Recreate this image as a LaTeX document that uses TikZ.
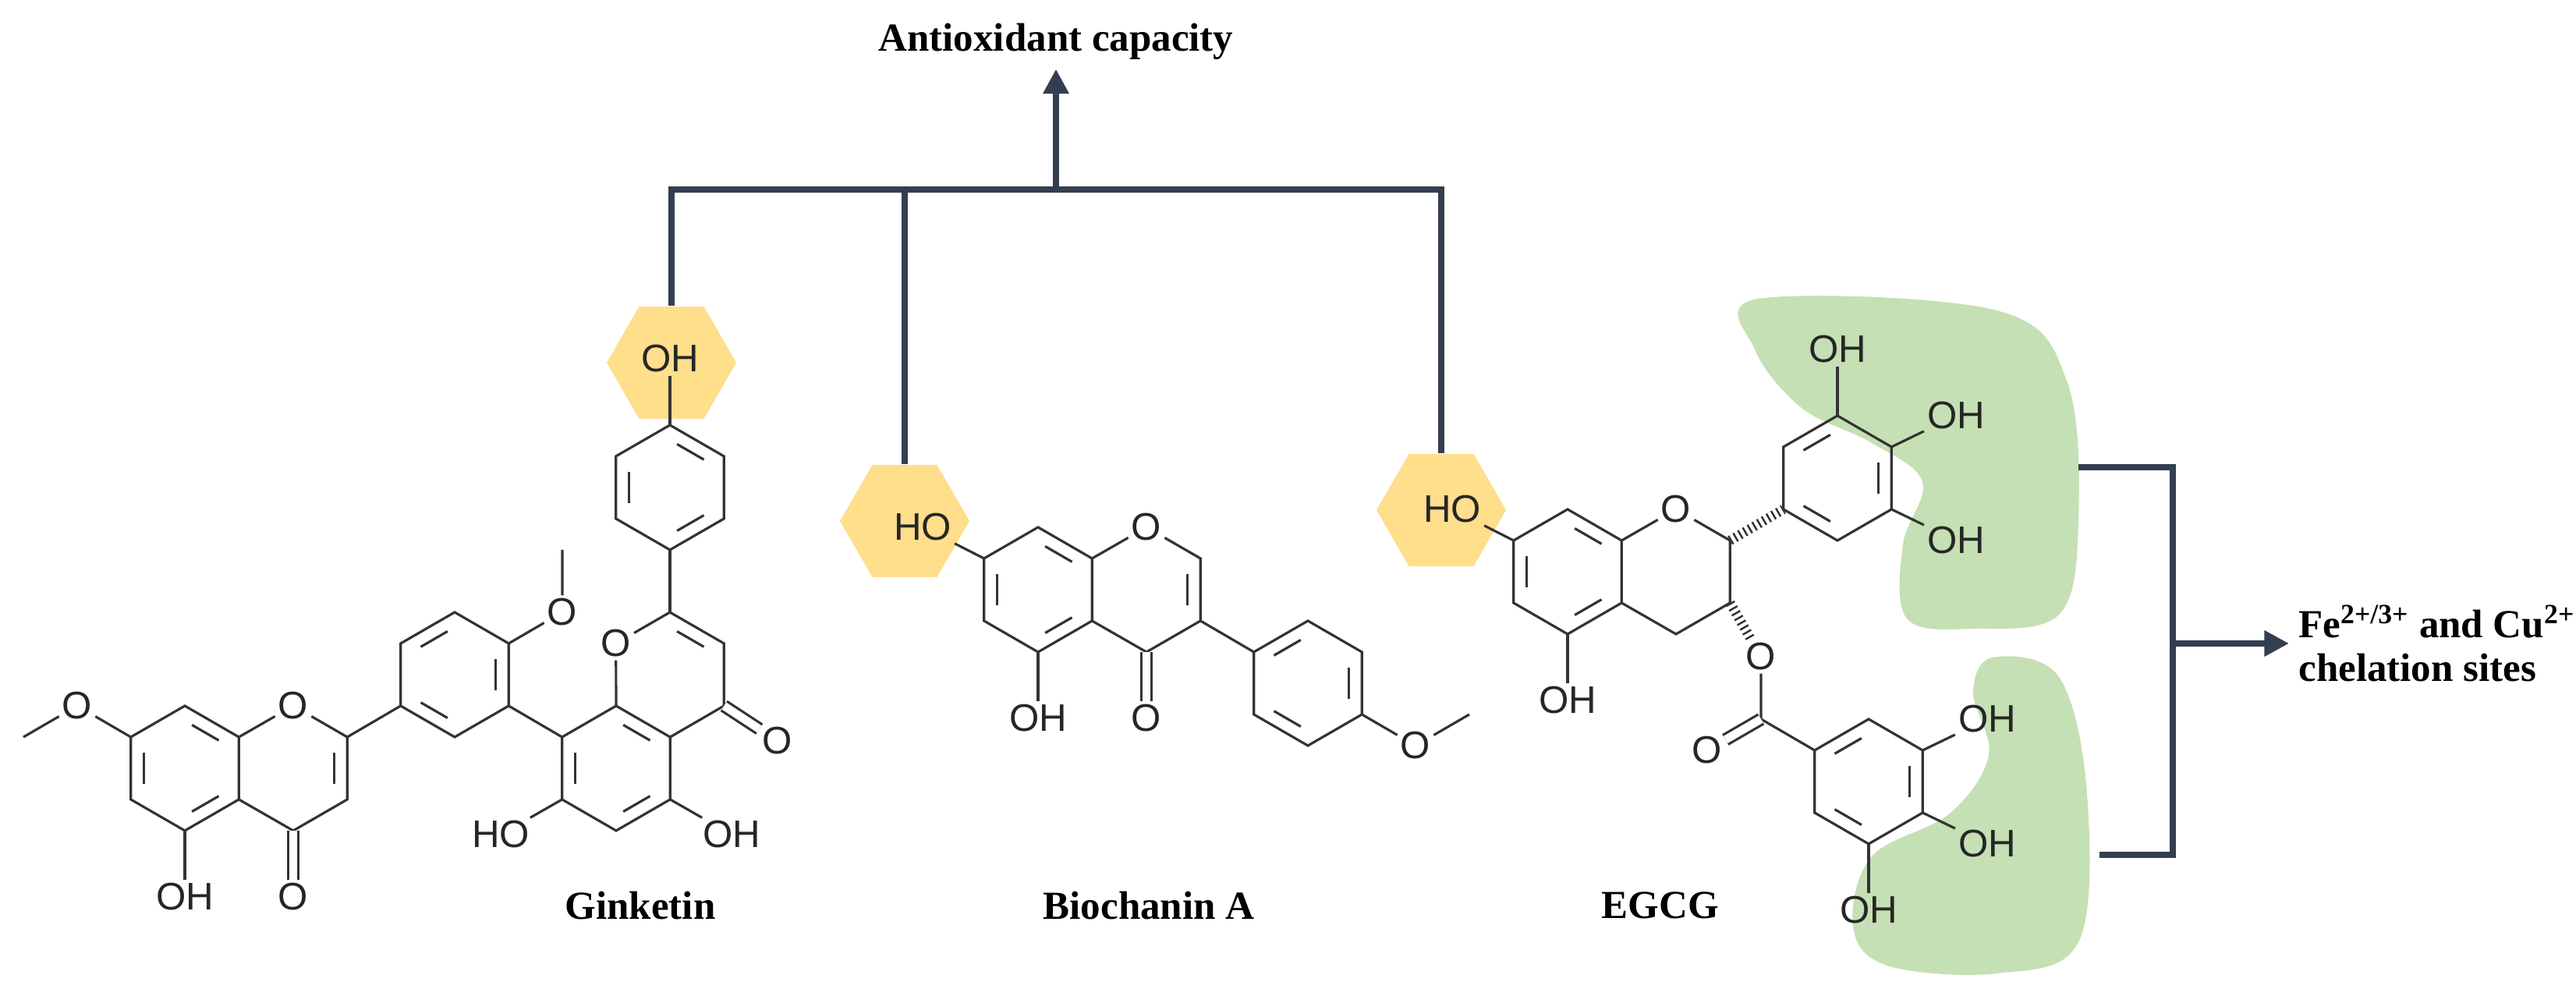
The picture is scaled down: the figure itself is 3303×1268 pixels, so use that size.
\documentclass[tikz,border=0pt]{standalone}
\usepackage{fontspec}
\setmainfont{Liberation Serif}
\setsansfont{Liberation Sans}
\usetikzlibrary{shapes,arrows.meta,positioning,calc}

\definecolor{linkc}{RGB}{51,62,80}
\definecolor{ohyel}{RGB}{255,222,140}
\definecolor{chelg}{RGB}{197,224,180}

% ring vertices: name, centre x, centre y
\newcommand{\hexring}[3]{%
  \coordinate (#1c) at (#2,#3);
  \foreach \a in {30,90,...,330}{\coordinate (#1\a) at ($(#2,#3)+(\a:80)$);}}
% inner line of an aromatic double bond
\newcommand{\dbl}[3]{\draw[bond,shorten <=3pt,shorten >=3pt] ($(#1c)!0.76!(#1#2)$) -- ($(#1c)!0.76!(#1#3)$);}

\begin{document}
\begin{tikzpicture}[x=0.01cm,y=0.01cm,
    bond/.style={line width=0.9pt,draw=black!80},
    hash/.style={line width=3.5pt,draw=black!80,dash pattern=on 0.7pt off 1.3pt},
    atom/.style={font=\fontsize{14}{14}\selectfont\sffamily,inner sep=1pt,text=black!85},
    title/.style={font=\fontsize{14.5}{16}\selectfont\bfseries},
    conn/.style={line width=2.4pt,draw=linkc},
    hexhl/.style={regular polygon,regular polygon sides=6,minimum size=1.66cm,fill=ohyel,inner sep=0pt}]
\useasboundingbox (0,0) rectangle (3303,1268);

% highlights
\node[hexhl] (hx1) at (861,803) {};
\node[hexhl] (hx2) at (1160,600) {};
\node[hexhl] (hx3) at (1848,614) {};
\fill[chelg] plot[smooth cycle,tension=0.6] coordinates {(2255,885) (2560,870) (2650,780) (2665,600) (2640,480) (2530,462) (2445,475) (2440,570) (2465,650) (2400,700) (2310,745) (2250,820)};
\fill[chelg] plot[smooth cycle,tension=0.6] coordinates {(2555,425) (2640,400) (2676,250) (2665,60) (2560,20) (2420,30) (2376,80) (2400,170) (2500,225) (2550,300) (2530,380)};

% Ginketin
\hexring{GA}{237}{283}
\hexring{GC}{376}{283}
\hexring{GB}{583}{403}
\hexring{GD}{790}{283}
\hexring{GE}{859}{403}
\hexring{GF}{859}{643}
\node[atom] (gO1) at (GC90) {O};
\node[atom] (gO2) at (99,363) {O};
\coordinate (gMe1) at (30,323);
\node[atom] (gOH1) at (237,118) {OH};
\node[atom] (gO3) at (376,118) {O};
\node[atom] (gO4) at (721,483) {O};
\coordinate (gMe2) at (721,563);
\node[atom] (gO5) at (GE150) {O};
\node[atom] (gO6) at (997,318) {O};
\node[atom] (gOH2) at (859,808) {OH};
\node[atom] (gOH3) at (938,198) {OH};
\node[atom] (gHO1) at (642,198) {HO};
\draw[bond] (GA30) -- (GA90) -- (GA150) -- (GA210) -- (GA270) -- (GA330) -- cycle;
\draw[bond] (GA30) -- (gO1) -- (GC30) -- (GC330) -- (GC270) -- (GA330);
\draw[bond,double,double distance=3pt] (GC270) -- (gO3);
\draw[bond] (GA150) -- (gO2) -- (gMe1);
\draw[bond] (GA270) -- (gOH1);
\dbl{GA}{150}{210} \dbl{GA}{270}{330} \dbl{GA}{30}{90} \dbl{GC}{30}{330}
\draw[bond] (GB30) -- (GB90) -- (GB150) -- (GB210) -- (GB270) -- (GB330) -- cycle;
\draw[bond] (GC30) -- (GB210);
\draw[bond] (GB30) -- (gO4) -- (gMe2);
\draw[bond] (GB330) -- (GD150);
\dbl{GB}{90}{150} \dbl{GB}{210}{270} \dbl{GB}{330}{30}
\draw[bond] (GD30) -- (GD90) -- (GD150) -- (GD210) -- (GD270) -- (GD330) -- cycle;
\draw[bond] (GD90) -- (gO5) -- (GE90) -- (GE30) -- (GE330) -- (GD30);
\draw[bond,double,double distance=3pt] (GE330) -- (gO6);
\draw[bond] (GD330) -- (gOH3);
\draw[bond] (GD210) -- (gHO1);
\dbl{GD}{150}{210} \dbl{GD}{270}{330} \dbl{GD}{30}{90} \dbl{GE}{90}{30}
\draw[bond] (GE90) -- (GF270);
\draw[bond] (GF30) -- (GF90) -- (GF150) -- (GF210) -- (GF270) -- (GF330) -- cycle;
\draw[bond] (GF90) -- (gOH2);
\dbl{GF}{150}{210} \dbl{GF}{270}{330} \dbl{GF}{30}{90}

% Biochanin A
\hexring{BA}{1331}{512}
\hexring{BC}{1470}{512}
\hexring{BP}{1677}{392}
\node[atom] (bHO) at (1183,592) {HO};
\node[atom] (bOH) at (1331,347) {OH};
\node[atom] (bO1) at (BC90) {O};
\node[atom] (bO2) at (1470,347) {O};
\node[atom] (bO3) at (1815,312) {O};
\coordinate (bMe) at (1884,352);
\draw[bond] (BA30) -- (BA90) -- (BA150) -- (BA210) -- (BA270) -- (BA330) -- cycle;
\draw[bond] (BA30) -- (bO1) -- (BC30) -- (BC330) -- (BC270) -- (BA330);
\draw[bond,double,double distance=3pt] (BC270) -- (bO2);
\draw[bond] (BA150) -- (bHO);
\draw[bond] (BA270) -- (bOH);
\dbl{BA}{150}{210} \dbl{BA}{270}{330} \dbl{BA}{30}{90} \dbl{BC}{30}{330}
\draw[bond] (BC330) -- (BP150);
\draw[bond] (BP30) -- (BP90) -- (BP150) -- (BP210) -- (BP270) -- (BP330) -- cycle;
\draw[bond] (BP330) -- (bO3) -- (bMe);
\dbl{BP}{210}{270} \dbl{BP}{330}{30} \dbl{BP}{90}{150}

% EGCG
\hexring{EA}{2010}{535}
\hexring{EC}{2149}{535}
\hexring{EB}{2356}{655}
\hexring{EG}{2396}{266}
\node[atom] (eHO) at (1862,615) {HO};
\node[atom] (eOH1) at (2010,370) {OH};
\node[atom] (eO1) at (EC90) {O};
\node[atom] (eOH2) at (2356,820) {OH};
\node[atom] (eOH3) at (2508,735) {OH};
\node[atom] (eOH4) at (2508,575) {OH};
\node[atom] (eO2) at (2258,426) {O};
\coordinate (eC) at (2258,346);
\node[atom] (eO3) at (2189,306) {O};
\node[atom] (eOH5) at (2548,346) {OH};
\node[atom] (eOH6) at (2548,186) {OH};
\node[atom] (eOH7) at (2396,101) {OH};
\draw[bond] (EA30) -- (EA90) -- (EA150) -- (EA210) -- (EA270) -- (EA330) -- cycle;
\draw[bond] (EA30) -- (eO1) -- (EC30) -- (EC330) -- (EC270) -- (EA330);
\draw[bond] (EA150) -- (eHO);
\draw[bond] (EA270) -- (eOH1);
\dbl{EA}{150}{210} \dbl{EA}{270}{330} \dbl{EA}{30}{90}
\draw[hash] (EC30) -- (EB210);
\draw[bond] (EB30) -- (EB90) -- (EB150) -- (EB210) -- (EB270) -- (EB330) -- cycle;
\draw[bond] (EB90) -- (eOH2);
\draw[bond] (EB30) -- (eOH3);
\draw[bond] (EB330) -- (eOH4);
\dbl{EB}{90}{150} \dbl{EB}{210}{270} \dbl{EB}{330}{30}
\draw[hash] (EC330) -- (eO2);
\draw[bond] (eO2) -- (eC) -- (EG150);
\draw[bond,double,double distance=3pt] (eC) -- (eO3);
\draw[bond] (EG30) -- (EG90) -- (EG150) -- (EG210) -- (EG270) -- (EG330) -- cycle;
\draw[bond] (EG30) -- (eOH5);
\draw[bond] (EG330) -- (eOH6);
\draw[bond] (EG270) -- (eOH7);
\dbl{EG}{90}{150} \dbl{EG}{210}{270} \dbl{EG}{330}{30}

% names
\node[title] (ginketin) at (821,107) {Ginketin};
\node[title] (biochanin) at (1473,107) {Biochanin A};
\node[title] (egcg) at (2129,107) {EGCG};
\node[title] (antiox) at (1354,1215) {Antioxidant capacity};
\node[title,align=left,anchor=west] (chel) at (2935,443) {Fe\textsuperscript{2+/3+} and Cu\textsuperscript{2+}\\chelation sites};

% connectors
\coordinate (top) at (0,1025);
\coordinate (jn) at (1354,1025);
\coordinate (s1) at (2665,669);
\coordinate (s2) at (2692,172);
\coordinate (brk) at (2786,443);
\draw[conn] (hx1.north) -- (hx1.north |- top) -- (hx3.north |- top) -- (hx3.north);
\draw[conn] (hx2.north) -- (hx2.north |- top);
\draw[conn,-{Triangle[length=9pt,width=9pt]}] (jn) -- (jn |- antiox.south);
\draw[conn] (s1) -- (brk |- s1) -- (brk |- s2) -- (s2);
\draw[conn,-{Triangle[length=9pt,width=9pt]}] (brk) -- (brk -| chel.west);
\end{tikzpicture}
\end{document}
